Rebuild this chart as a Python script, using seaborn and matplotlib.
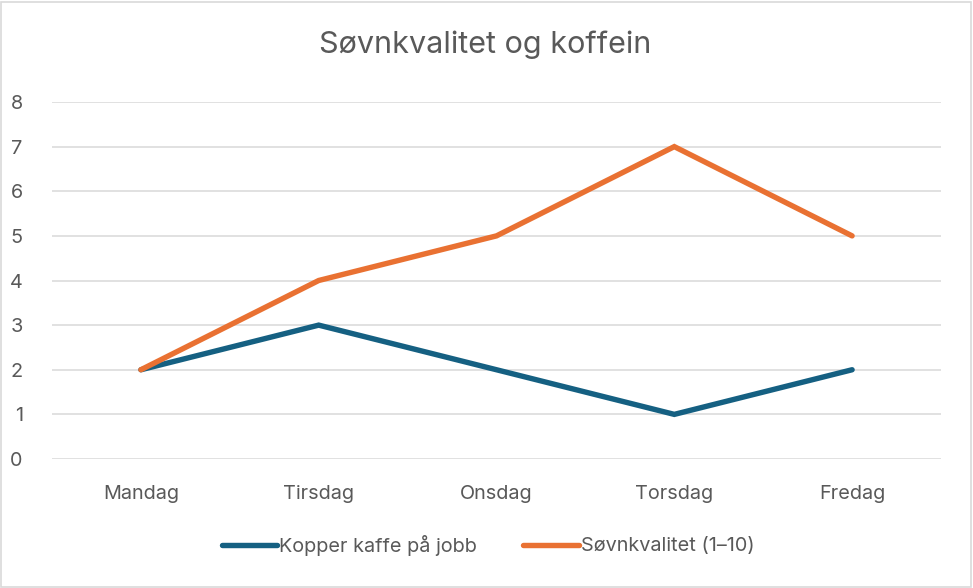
import pandas as pd
import matplotlib.pyplot as plt
import seaborn as sns
from matplotlib.patches import Rectangle

days = ["Mandag", "Tirsdag", "Onsdag", "Torsdag", "Fredag"]
kaffe = [2, 3, 2, 1, 2]
sovn = [2, 4, 5, 7, 5]
series_names = ["Kopper kaffe på jobb", "Søvnkvalitet (1–10)"]
colors = ["#156082", "#E97132"]

df = pd.DataFrame({
    "Dag": days * 2,
    "Verdi": kaffe + sovn,
    "Serie": [series_names[0]] * len(days) + [series_names[1]] * len(days),
})

sns.set_theme(style="white")
plt.rcParams["font.family"] = ["Inter", "DejaVu Sans"]
text_color = "#595959"

fig = plt.figure(figsize=(9.73, 5.88), dpi=100)
ax = fig.add_axes([52 / 973, 129 / 588, 889 / 973, 357 / 588])

sns.lineplot(data=df, x="Dag", y="Verdi", hue="Serie", palette=colors,
             linewidth=3.9, ax=ax, sort=False, legend=True,
             solid_capstyle="round", solid_joinstyle="miter")

ax.set_xlim(-0.5, len(days) - 0.5)
ax.set_ylim(0, 8)
ax.set_yticks(range(0, 9))
ax.grid(axis="y", color="#d9d9d9", linewidth=1.1)
ax.set_axisbelow(True)
for s in ax.spines.values():
    s.set_visible(False)
ax.tick_params(axis="both", length=0, labelsize=14.3, colors=text_color)
ax.tick_params(axis="y", pad=21)
ax.tick_params(axis="x", pad=19)
ax.set_xlabel("")
ax.set_ylabel("")

fig.text(485 / 973, 1 - 45 / 588, "Søvnkvalitet og koffein", ha="center", va="center",
         fontsize=22, color=text_color)

handles, labels = ax.get_legend_handles_labels()
ax.legend(handles, labels, loc="center", bbox_to_anchor=(488 / 973, 1 - 545 / 588),
          bbox_transform=fig.transFigure, ncol=2, frameon=False, fontsize=14.3,
          labelcolor=text_color, handlelength=2.8, handletextpad=0.1, columnspacing=2.3)

fig.patches.append(Rectangle((0.001, 0.002), 0.997, 0.995, transform=fig.transFigure,
                             fill=False, edgecolor="#d9d9d9", linewidth=1.2))

fig.savefig("out.png", dpi=100)
